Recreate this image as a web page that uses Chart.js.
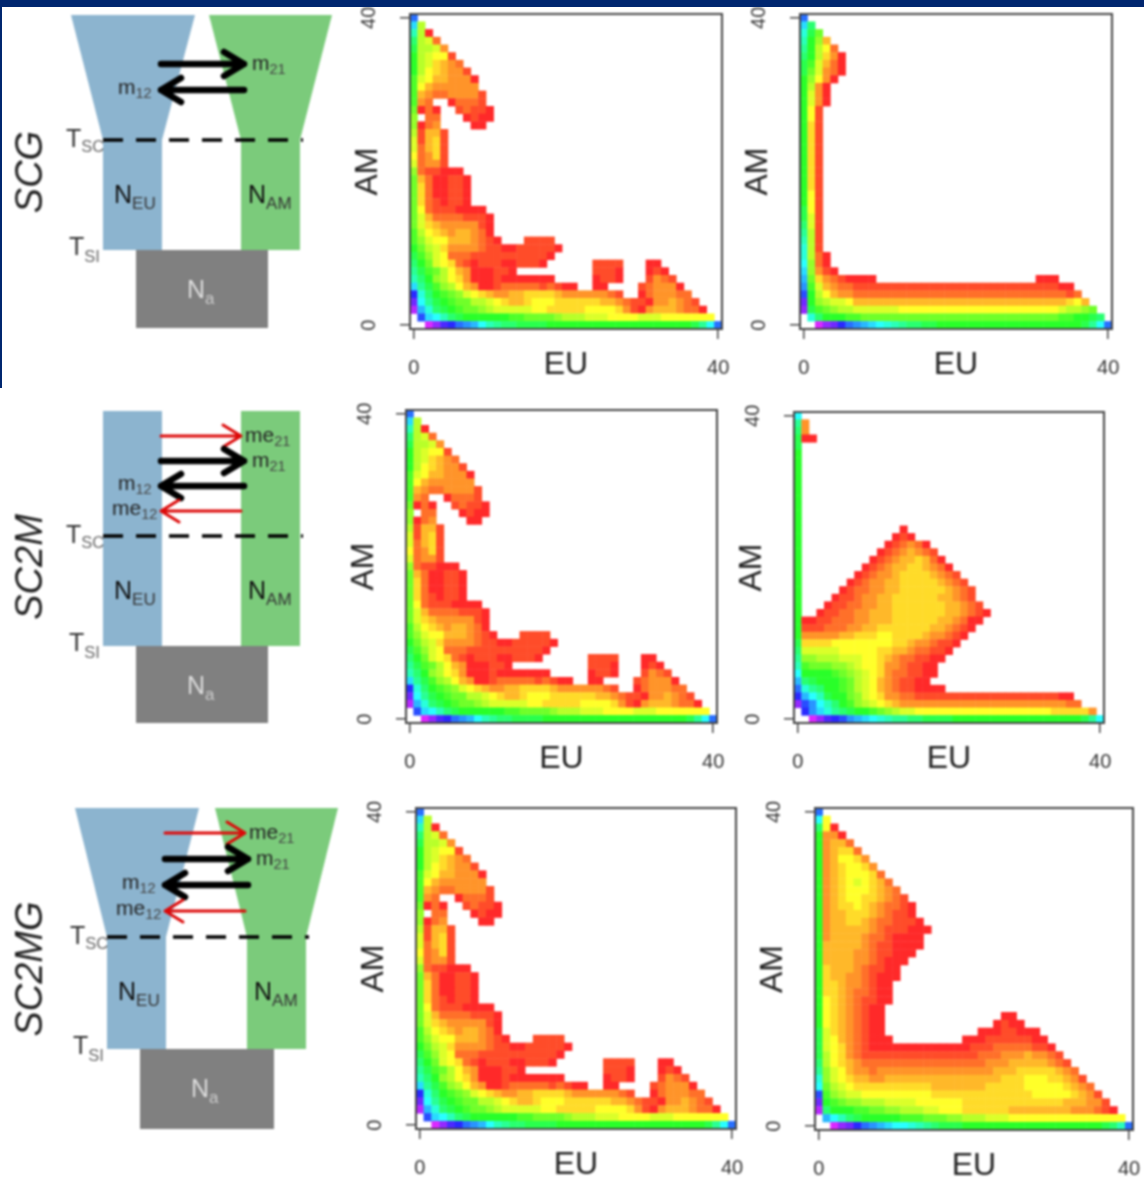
<!DOCTYPE html>
<html>
<head>
<meta charset="utf-8">
<title>SFS fits</title>
<script src="https://cdn.jsdelivr.net/npm/chart.js@4/dist/chart.umd.min.js"></script>
<style>
  html, body { margin: 0; background: #fff; overflow: hidden; }
  #page { position: relative; width: 1144px; height: 1179px; overflow: hidden; filter: blur(0.9px); }
  #page canvas, #page svg { position: absolute; }
  #topbar { position: absolute; left: 0; top: 0; width: 1144px; height: 7px; background: #00266f; }
  #sidebar { position: absolute; left: 0; top: 0; width: 2px; height: 388px; background: #00266f; }
</style>
</head>
<body>
<div id="page"></div>
<div id="topbar"></div>
<div id="sidebar"></div>
<script>
// Each row is AM = 40 down to 0. "start:values" puts values from EU = start on,
// one base 36 digit per cell (log density, 0 = lowest).
const EU_MAX = 40;
const AXIS_TICKS = [0, 40];

const observed = [
  "0:m", "0:j8", "0:g80", "0:e872", "0:d8873", "0:c87661", "0:c875432", "0:c8654331",
  "0:b76443330", "0:b64333333", "0:b432233331", "0:b32 5:02221", "0:a020 6:12110",
  "0:9 2:22 7:0100", "0:9023 8:00", "0:81441", "0:71451", "0:72451", "0:62351", "0:72331",
  "0:9211000", "0:a4200110", "0:a5200110", "0:a5200110", "0:a5210110", "0:a621110000",
  "0:a7422221110", "0:a7543333310", "0:b8654344320", "0:b97664443210 15:1111",
  "0:ca875333321100111110", "0:db97622211111111110", "0:eca765210111001110 24:1111 31:00",
  "0:fdba8643000110 24:1110 31:010", "0:gec9865300010000000 24:0110 31:1321",
  "0:jfdb986430012222212100 24:00 30:123330", "0:ohecba9765433445555433333321 30:0233322",
  "0:qifdcbaa88765445666555555443211 31:0334321",
  "0:skhedcbaa987777766555556666531 30:034443220",
  "1:njigedccccccbbaaaa9888777666677 32:76666666",
  "2:trpomlkigfeeddddcccc 22:ccccccccccccccc 37:dfim"
];

const modelSCG = [
  "0:m", "0:je", "0:hda", "0:gc94", "0:fc862", "0:ec8530", "0:db7420", "0:da7320",
  "0:c9630", "0:c830", "0:c730", "0:c730", "0:c61", "0:c61", "0:c51", "0:c51", "0:c51",
  "0:c51", "0:c51", "0:c51", "0:c51", "0:c51", "0:c51", "0:c61", "0:c61", "0:d61",
  "0:d71", "0:e71", "0:f81", "0:g81", "0:h81", "0:h820", "0:i920", "0:j9310",
  "0:ka53210000 31:000",
  "0:lb74322 7:111111111111111111111111111 34:00",
  "0:nc86433 7:2222222222222222222222222222 35:12",
  "0:qc98776 7:4444444444444444444444444444 35:564",
  "0:rdba988 7:777777 13:66666666666666666666 33:67889a",
  "1:hecccbb 8:aaaaaaaaaaaaaaaaaaaaaaaaaa 34:bbccde",
  "2:trqomlkjih 12:gfeeddcc 20:ccccccccccccccccc 37:dfim"
];

const modelSC2M = [
  "0:i", "0:f3", "0:e3", "0:d00", "0:d", "0:c", "0:c", "0:c", "0:c", "0:c", "0:c", "0:c",
  "0:c", "0:c", "0:c", "0:c 14:0", "0:c 13:010", "0:c 12:012320", "0:c 11:01234321",
  "0:c 10:0123445420", "0:c 9:012344554320", "0:c 8:01233455554321",
  "0:c 7:0123344555554321", "0:c 6:012233445555554321", "0:c 5:0112334455555544321",
  "0:c 4:011223344555555544321", "0:c 3:01122334445555555443210",
  "0:c 1:001122233444555555443200", "0:c 1:11122233445555555443210",
  "0:c 1:3333344555665555433210", "0:d 1:555566666666554332110",
  "0:e 1:77777666665544322110", "0:f 1:9988877766543221100", "0:g 1:baaa99876653321100",
  "0:i 1:ccccba987653221100", "0:k 1:edcccba8764321100", "0:m 1:hfeccba876432110000",
  "0:o 1:kigdcca976533221 17:111111111111111111 35:00",
  "0:r 1:nligecb987654 14:3333333333333333333333 36:22",
  "1:oljhfedccba987766 18:6666666666666666 34:55555 39:3",
  "2:trponlkjih 12:gffeeddddccc 24:cccccccccccccc 38:dfi"
];

const modelSC2MG = [
  "0:m", "0:i6", "0:e60", "0:c330", "0:c3442", "0:c34552", "0:c346653", "0:c3456653",
  "0:c34566652", "0:c345676542", "0:c3456665432", "0:c34566554321", "0:c345565432210",
  "0:c344555432110", "0:c3445543221110", "0:c34444432111000", "0:c3444432210000",
  "0:c4444432110000", "0:c444433211000", "0:c44443321000", "0:c5444321100", "0:c5443321000",
  "0:c554332100", "0:c554322100", "0:c654321100", "0:c65432100", "0:c65432100 24:00",
  "0:c65432100 23:0100", "0:d75432100 21:00011000", "0:d764321000 19:00011111100",
  "0:d765321 7:000000000000 19:011122222110",
  "0:d865321 7:111111111111 19:1122233343321",
  "0:e865432 7:222222222222 19:22233344444321",
  "0:f976433 7:233333333333 19:333344455555432",
  "0:h976544 7:334444444444 19:4444455566655431",
  "0:ia87655 7:555555554444 19:44455555666665432",
  "0:nb98776 7:666666665555 19:555555555666665431",
  "0:qcba998 7:887777666666 19:5555555555555444331",
  "0:secccbb 7:aa9988877666 19:55555544444444333210",
  "1:kigedccc 9:ccbbbaaa9988877766666666666666 39:6",
  "2:trqomlkjiihgfedddcc 21:ccccccccccccccccdegm"
];

// one panel per drawn plot: [spectrum, frame left, top, right, bottom]
const panels = [
  [observed, 410, 14, 722, 329],
  [modelSCG, 800, 14, 1112, 329],
  [observed, 406, 410, 717, 723],
  [modelSC2M, 794, 412, 1104, 723],
  [observed, 416, 808, 736, 1129],
  [modelSC2MG, 815, 808, 1133, 1130]
];

const page = document.getElementById('page');

function readCells(rows) {
  let cells = [];
  rows.forEach((row, i) => {
    row.split(' ').forEach(part => {
      let [start, values] = part.split(':');
      [...values].forEach((c, k) => {
        cells.push({x: Number(start) + k, y: EU_MAX - i, v: parseInt(c, 36)});
      });
    });
  });
  return cells;
}

function rainbow(v) {
  return 'hsl(' + (v * 10) + ',100%,58%)';
}

// box around the plot area, R style
const frameBox = {
  id: 'frameBox',
  afterDatasetsDraw(chart) {
    const a = chart.chartArea, c = chart.ctx;
    c.save();
    c.strokeStyle = '#444';
    c.lineWidth = 2;
    c.strokeRect(a.left, a.top, a.right - a.left, a.bottom - a.top);
    c.restore();
  }
};

function drawPanel(p) {
  const [rows, left, top, right, bottom] = p;
  const padTop = 16, padRight = 24, axisW = 62, axisH = 62;
  const w = right - left, h = bottom - top;
  const cvs = document.createElement('canvas');
  cvs.width = w + axisW + padRight;
  cvs.height = h + axisH + padTop;
  cvs.style.left = (left - axisW) + 'px';
  cvs.style.top = (top - padTop) + 'px';
  page.appendChild(cvs);

  const cells = readCells(rows);
  const tickOpts = {
    color: '#333',
    font: {family: 'Liberation Sans', size: 20},
    callback: v => v
  };
  const gridOpts = {drawOnChartArea: false, tickLength: 10, tickColor: '#444', lineWidth: 1.5};

  new Chart(cvs, {
    type: 'scatter',
    data: {
      datasets: [{
        data: cells,
        pointStyle: 'rect',
        pointRadius: (w / 41 + 0.5) * Math.SQRT1_2,
        pointBorderWidth: 0,
        pointBackgroundColor: cells.map(d => rainbow(d.v))
      }]
    },
    options: {
      responsive: false,
      animation: false,
      events: [],
      layout: {padding: {top: padTop, right: padRight}},
      plugins: {legend: {display: false}, tooltip: {enabled: false}},
      scales: {
        x: {
          type: 'linear', min: -0.5, max: 40.5,
          afterBuildTicks: s => { s.ticks = AXIS_TICKS.map(v => ({value: v})); },
          afterFit: s => { s.height = axisH; s.paddingLeft = 0; s.paddingRight = 0; },
          ticks: {...tickOpts, padding: 17, maxRotation: 0},
          grid: gridOpts,
          border: {display: false},
          title: {
            display: true, text: 'EU', color: '#222',
            font: {family: 'Liberation Sans', size: 32},
            padding: {top: 0, bottom: 7}
          }
        },
        y: {
          type: 'linear', min: -0.5, max: 40.5,
          afterBuildTicks: s => { s.ticks = AXIS_TICKS.map(v => ({value: v})); },
          afterFit: s => { s.width = axisW; s.paddingTop = 0; s.paddingBottom = 0; },
          ticks: {...tickOpts, padding: 19, minRotation: 90, maxRotation: 90, crossAlign: 'center'},
          grid: gridOpts,
          border: {display: false},
          title: {
            display: true, text: 'AM', color: '#222',
            font: {family: 'Liberation Sans', size: 32},
            padding: {top: 1, bottom: 0}
          }
        }
      }
    },
    plugins: [frameBox]
  });
}

panels.forEach(drawPanel);

// model schematics on the left
const schemes = [
  {name: 'SCG', dx: 0, gdx: 0, top: 15, tsc: 140, tsi: 250, end: 328, nameY: 172, flare: true,
   arrows: [['m', '21', 64, 0], ['m', '12', 90, 1]]},
  {name: 'SC2M', dx: 0, gdx: 0, top: 411, tsc: 536, tsi: 646, end: 723, nameY: 567, flare: false,
   arrows: [['me', '21', 436, 0], ['m', '21', 461, 0], ['m', '12', 486, 1], ['me', '12', 511, 1]]},
  {name: 'SC2MG', dx: 4, gdx: 6, top: 808, tsc: 937, tsi: 1049, end: 1129, nameY: 969, flare: true,
   arrows: [['me', '21', 833, 0], ['m', '21', 859, 0], ['m', '12', 885, 1], ['me', '12', 911, 1]]}
];

function label(x, y, main, sub, size, subSize, color, subColor, shift) {
  return `<text x="${x}" y="${y}" font-size="${size}" fill="${color}">${main}` +
    `<tspan dy="${shift}" font-size="${subSize}" fill="${subColor}">${sub}</tspan></text>`;
}

function arrow(x1, x2, y, color, width, headL, headH) {
  const dir = x2 > x1 ? -1 : 1, back = x2 + dir * headL;
  return `<path d="M${x1} ${y}L${x2} ${y}M${back} ${y - headH}L${x2} ${y}L${back} ${y + headH}" ` +
    `fill="none" stroke="${color}" stroke-width="${width}" stroke-linecap="round" stroke-linejoin="round"/>`;
}

function schemeSvg(s) {
  const bl = 103 + s.dx, br = 162 + s.dx, gl = 241 + s.gdx, gr = 300 + s.gdx;
  let out = '';
  if (s.flare) {
    out += `<polygon points="${bl - 32},${s.top} ${br + 33},${s.top} ${br},${s.tsc} ${bl},${s.tsc}" fill="#8cb4cf"/>`;
    out += `<polygon points="${gl - 32},${s.top} ${gr + 32},${s.top} ${gr},${s.tsc} ${gl},${s.tsc}" fill="#7bcb7b"/>`;
  } else {
    out += `<rect x="${bl}" y="${s.top}" width="59" height="${s.tsc - s.top}" fill="#8cb4cf"/>`;
    out += `<rect x="${gl}" y="${s.top}" width="59" height="${s.tsc - s.top}" fill="#7bcb7b"/>`;
  }
  out += `<rect x="${bl}" y="${s.tsc}" width="59" height="${s.tsi - s.tsc}" fill="#8cb4cf"/>`;
  out += `<rect x="${gl}" y="${s.tsc}" width="59" height="${s.tsi - s.tsc}" fill="#7bcb7b"/>`;
  out += `<rect x="${136 + s.dx}" y="${s.tsi}" width="${132 + (s.gdx - s.dx)}" height="${s.end - s.tsi}" fill="#808080"/>`;
  out += `<line x1="${bl}" x2="${gr + 3}" y1="${s.tsc}" y2="${s.tsc}" stroke="#000" stroke-width="3.5" stroke-dasharray="20 13"/>`;

  s.arrows.forEach(a => {
    const [m, idx, y, back] = a, red = m === 'me';
    const color = red ? '#dc0808' : '#000', width = red ? 3 : 6.5;
    const from = 161 + s.dx, to = (red ? 241 : 244) + s.dx;
    out += back ? arrow(to, from, y, color, width, red ? 18 : 20, red ? 11 : 12)
                : arrow(from, to, y, color, width, red ? 18 : 20, red ? 11 : 12);
    const tx = back ? (red ? 112 : 118) : (red ? 245 : 252);
    out += label(tx + s.dx, y + (back ? 4 : 6), m, idx, 21, 14.5, '#222', '#444', 4);
  });

  out += label(66 + s.dx, s.tsc + 7, 'T', 'SC', 25, 16.5, '#333', '#666', 5);
  out += label(69 + s.dx, s.tsi + 5, 'T', 'SI', 25, 16.5, '#333', '#666', 7);
  out += label(114 + s.dx, s.tsc + 63, 'N', 'EU', 25, 17, '#111', '#333', 6);
  out += label(248 + s.gdx, s.tsc + 63, 'N', 'AM', 25, 17, '#111', '#333', 6);
  out += label(187 + s.dx, s.tsi + 48, 'N', 'a', 25, 17, '#ddd', '#ccc', 6);
  out += `<text transform="translate(${42},${s.nameY}) rotate(-90)" text-anchor="middle" ` +
    `font-size="38" font-style="italic" fill="#222">${s.name}</text>`;
  return out;
}

const svg = document.createElementNS('http://www.w3.org/2000/svg', 'svg');
svg.setAttribute('width', 1144);
svg.setAttribute('height', 1179);
svg.setAttribute('font-family', 'Liberation Sans');
svg.style.left = '0';
svg.style.top = '0';
svg.innerHTML = schemes.map(schemeSvg).join('');
page.appendChild(svg);
</script>
</body>
</html>
